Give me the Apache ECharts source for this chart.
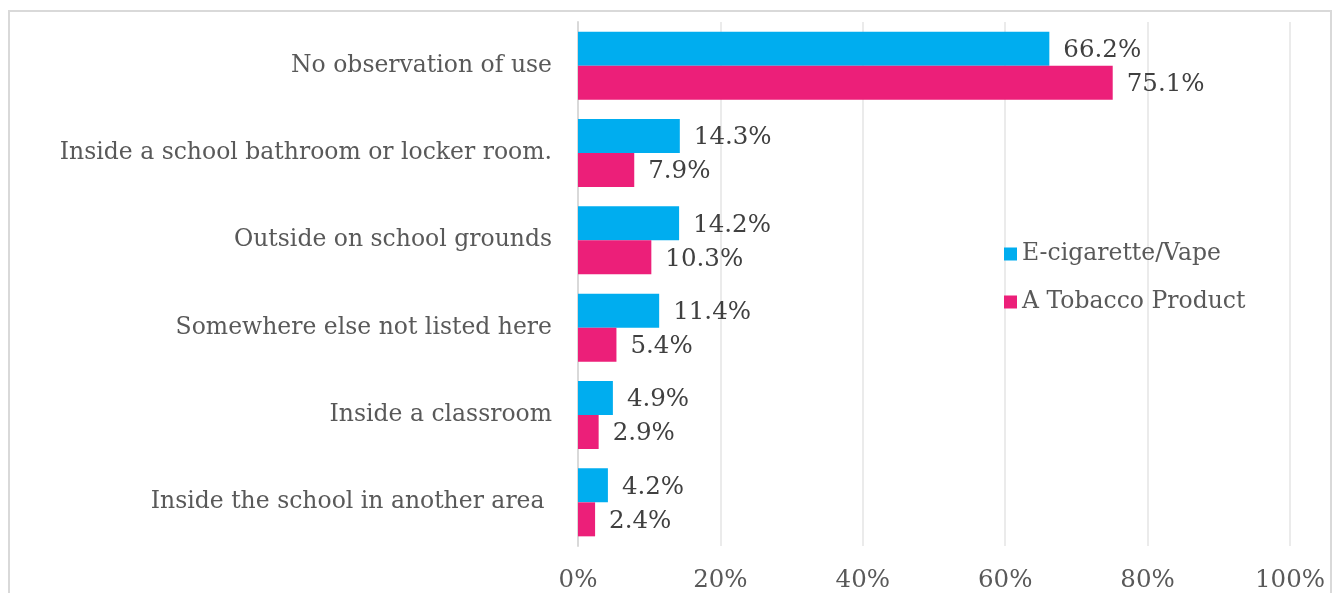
<!DOCTYPE html>
<html>
<head>
<meta charset="utf-8">
<script src="https://cdn.jsdelivr.net/npm/echarts@6/dist/echarts.min.js"></script>
<style>
  html, body { margin: 0; padding: 0; background: #fff; }
  #frame { position: absolute; left: 8px; top: 10px; width: 1324px; height: 600px; border: 2px solid #d9d9d9; box-sizing: border-box; }
  #chart { position: absolute; left: 0; top: 0; width: 1343px; height: 593px; }
</style>
</head>
<body>
<div id="frame"></div>
<div id="chart"></div>
<script>
// Where students observed use on school property
const categories = [
  'No observation of use',
  'Inside a school bathroom or locker room.',
  'Outside on school grounds',
  'Somewhere else not listed here',
  'Inside a classroom',
  'Inside the school in another area '
];
const ecigValues = [66.2, 14.3, 14.2, 11.4, 4.9, 4.2];
const tobaccoValues = [75.1, 7.9, 10.3, 5.4, 2.9, 2.4];
const seriesNames = ['E-cigarette/Vape', 'A Tobacco Product'];
const xTicks = [0, 20, 40, 60, 80, 100];

const FONT = "'DejaVu Serif', 'Liberation Serif', serif";

const chart = echarts.init(document.getElementById('chart'), null, { renderer: 'canvas' });

const labelStyle = {
  show: true,
  position: 'right',
  distance: 14,
  formatter: p => p.value.toFixed(1) + '%',
  color: '#404040',
  fontFamily: FONT,
  fontSize: 24.5,
  offset: [0, 2]
};

chart.setOption({
  animation: false,
  backgroundColor: 'transparent',
  grid: { left: 578, right: 53, top: 22, bottom: 47, containLabel: false },
  legend: {
    orient: 'vertical',
    left: 999,
    top: 237,
    itemWidth: 13,
    itemHeight: 13,
    itemGap: 24,
    icon: 'rect',
    textStyle: { color: '#595959', fontFamily: FONT, fontSize: 23.5, padding: [0, 0, 0, 0] },
    data: seriesNames
  },
  xAxis: {
    type: 'value',
    min: 0,
    max: 100,
    interval: 20,
    axisLine: { show: false },
    axisTick: { show: false },
    splitLine: { lineStyle: { color: '#ebebeb', width: 2 } },
    axisLabel: {
      color: '#595959',
      fontFamily: FONT,
      fontSize: 24.5,
      margin: 22,
      formatter: v => xTicks.includes(v) ? v + '%' : ''
    }
  },
  yAxis: {
    type: 'category',
    inverse: true,
    data: categories,
    axisLine: { show: true, lineStyle: { color: '#d9d9d9', width: 2 } },
    axisTick: { show: false },
    axisLabel: {
      color: '#595959',
      fontFamily: FONT,
      fontSize: 23.5,
      margin: 26,
      padding: [4, 0, 0, 0]
    }
  },
  series: [
    {
      name: seriesNames[0],
      type: 'bar',
      data: ecigValues,
      barWidth: 34,
      barGap: '0%',
      itemStyle: { color: '#00ADEF' },
      label: labelStyle
    },
    {
      name: seriesNames[1],
      type: 'bar',
      data: tobaccoValues,
      barWidth: 34,
      barGap: '0%',
      itemStyle: { color: '#EC1F79' },
      label: labelStyle
    }
  ]
});
</script>
</body>
</html>
